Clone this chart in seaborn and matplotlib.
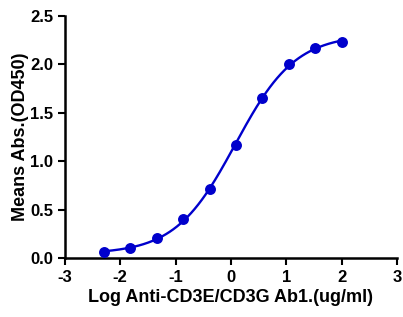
import matplotlib
matplotlib.use("Agg")
import matplotlib.pyplot as plt
import numpy as np
import seaborn as sns

# Data (3-fold dilution series)
log_conc = [-2.294, -1.817, -1.340, -0.863, -0.386, 0.091, 0.569, 1.046, 1.523, 2.000]
od450 = [0.06, 0.10, 0.21, 0.40, 0.71, 1.17, 1.65, 2.00, 2.17, 2.23]

x = np.array(log_conc)
y = np.array(od450)

# 4PL fit: grid search over EC50 and hill, linear solve for bottom/top
best = None
for ec50 in np.linspace(-1, 1, 201):
    for hill in np.linspace(0.3, 2.5, 221):
        s = 1.0 / (1.0 + 10 ** ((ec50 - x) * hill))
        A = np.column_stack([1 - s, s])
        coef, *_ = np.linalg.lstsq(A, y, rcond=None)
        err = np.sum((A @ coef - y) ** 2)
        if best is None or err < best[0]:
            best = (err, ec50, hill, coef)
_, ec50, hill, (bottom, top) = best

xf = np.linspace(x.min(), x.max(), 200)
yf = bottom + (top - bottom) / (1.0 + 10 ** ((ec50 - xf) * hill))

sns.set_style("ticks")
plt.rcParams["font.family"] = ["Liberation Sans", "DejaVu Sans"]
plt.rcParams["font.weight"] = "bold"
plt.rcParams["axes.unicode_minus"] = False
plt.rcParams["text.color"] = "black"
plt.rcParams["axes.labelcolor"] = "black"

fig, ax = plt.subplots(figsize=(4.03, 3.17), dpi=100)
fig.subplots_adjust(left=0.161, right=0.985, bottom=0.186, top=0.95)

blue = "#0000CC"
sns.lineplot(x=xf, y=yf, color=blue, linewidth=1.7, ax=ax)
sns.scatterplot(x=x, y=y, color=blue, s=62, edgecolor=blue, linewidth=0, ax=ax, zorder=3)

ax.set_xlim(-3, 3)
ax.set_ylim(0, 2.5)
ax.set_xticks(range(-3, 4))
ax.set_yticks(np.arange(0, 2.51, 0.5))
ax.set_yticklabels([f"{v:.1f}" for v in np.arange(0, 2.51, 0.5)])
sns.despine(ax=ax)
for sp in ["left", "bottom"]:
    ax.spines[sp].set_linewidth(1.8)
    ax.spines[sp].set_color("black")
ax.tick_params(axis="both", width=1.5, length=5, labelsize=12, colors="black")
for lab in ax.get_xticklabels() + ax.get_yticklabels():
    lab.set_fontweight("bold")

ax.set_xlabel("Log Anti-CD3E/CD3G Ab1.(ug/ml)", fontsize=13, fontweight="bold", labelpad=3)
ax.set_ylabel("Means Abs.(OD450)", fontsize=13, fontweight="bold", labelpad=1)

fig.savefig("out.png", dpi=100)
